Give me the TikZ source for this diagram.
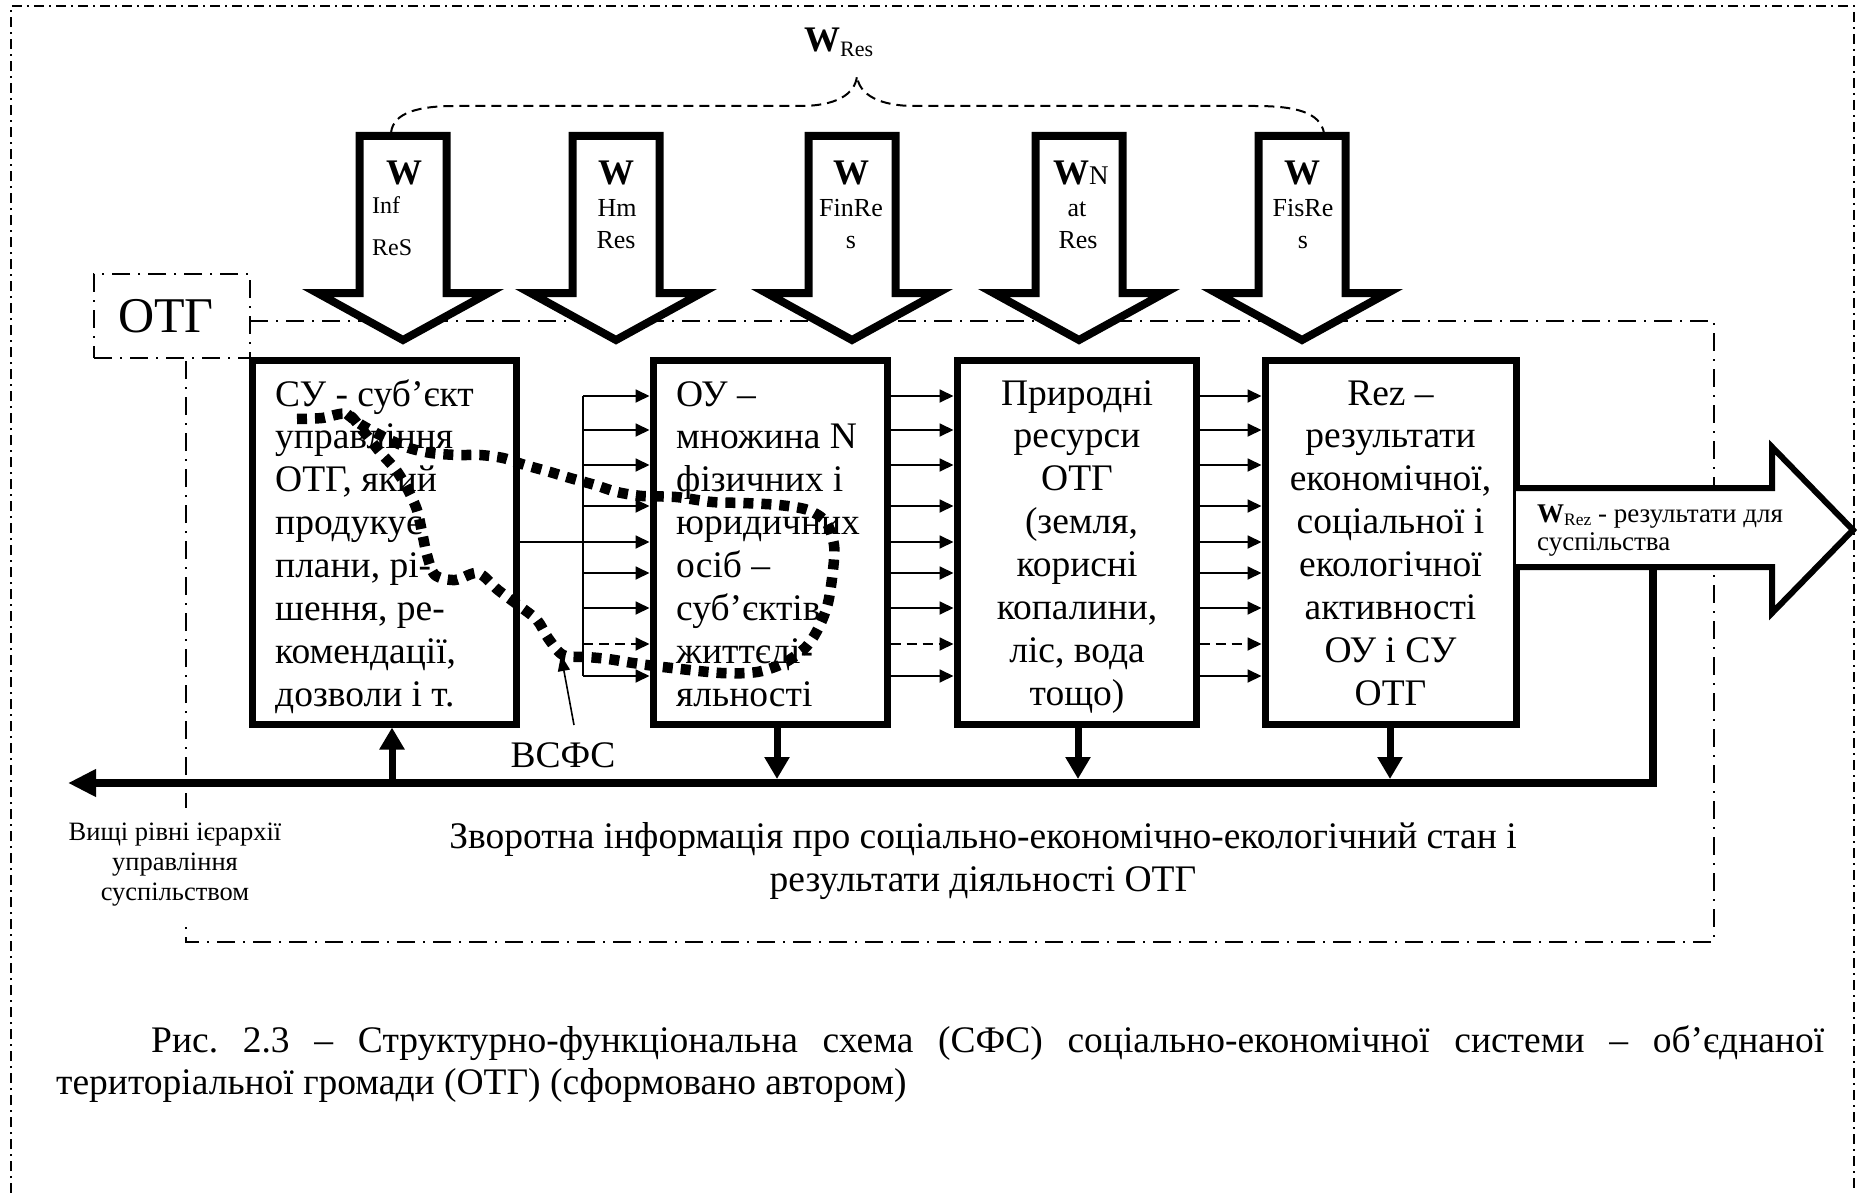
\documentclass[tikz,border=0pt]{standalone}
\usepackage{fontspec}
\setmainfont{Liberation Serif}
\usetikzlibrary{arrows.meta}
\newcommand\blkarrow[1]{%
  \draw[blockarrow] ({#1-43.5},136) -- ({#1+43.5},136) -- ({#1+43.5},293) -- ({#1+85.5},293) -- (#1,340) -- ({#1-85.5},293) -- ({#1-43.5},293) -- cycle;}
\begin{document}
\begin{tikzpicture}[x=1pt,y=-1pt,
  outerframe/.style={line width=1.5pt, dash pattern=on 10pt off 5pt on 2pt off 5pt},
  otgframe/.style={line width=1.8pt, dash pattern=on 18pt off 8pt on 2pt off 8pt},
  boxst/.style={draw, line width=7pt, fill=white, inner sep=0pt, outer sep=3.5pt},
  blockarrow/.style={draw, line width=8pt, fill=white, line join=miter},
  thinarr/.style={line width=1.8pt, -{Triangle[length=14pt,width=13pt]}},
  thickdown/.style={line width=7pt, -{Triangle[length=22pt,width=24pt]}},
  busline/.style={line width=8pt, line join=miter, -{Triangle[length=28pt,width=26pt]}},
  bracest/.style={line width=2pt, dash pattern=on 10pt off 6pt},
  dotloop/.style={line width=10.5pt, dash pattern=on 10pt off 8pt},
  sub24/.style={font=\fontsize{26}{26}\selectfont, inner sep=0pt, anchor=base},
  wlab/.style={font=\fontsize{36}{36}\selectfont\bfseries, inner sep=0pt, anchor=base},
]
\useasboundingbox (0,0) rectangle (1865,1193);
\fill[white] (0,0) rectangle (1865,1193);

% outer frame
\draw[outerframe] (11,1193) -- (11,6) -- (1854,6) -- (1854,1193);

% OTG region
\node[draw, otgframe, fill=white, minimum width=156pt, minimum height=84pt, inner sep=0pt,
      font=\fontsize{50}{50}\selectfont] (otg) at (172,316) {\hspace*{-12pt}ОТГ};
\coordinate (rTL) at (250,321);
\coordinate (rTR) at (1714,321);
\coordinate (rBR) at (1714,942);
\coordinate (rBL) at (186,942);
\coordinate (rLT) at (186,358);
\draw[otgframe] (rTL) -- (rTR) -- (rBR) -- (rBL) -- (rLT);

% brace
\draw[bracest] (391,133) .. controls (393,112) and (420,106) .. (455,106) -- (800,106)
  .. controls (835,106) and (855,95) .. (857,76)
  .. controls (859,95) and (880,106) .. (915,106) -- (1255,106)
  .. controls (1295,106) and (1320,112) .. (1324,133);
\node[inner sep=0pt, anchor=base west] (wres) at (804,52)
  {\fontsize{36}{36}\selectfont\bfseries W\raisebox{-5pt}{\fontsize{22}{22}\selectfont\mdseries Res}};

% block arrows
\blkarrow{403}
\blkarrow{616}
\blkarrow{852}
\blkarrow{1079}
\blkarrow{1302}

\node[wlab] (w1) at (404,185) {W};
\node[sub24, font=\fontsize{24}{24}\selectfont, anchor=base west] (w1a) at (372,214) {Inf};
\node[sub24, font=\fontsize{24}{24}\selectfont, anchor=base west] (w1b) at (372,255) {ReS};
\node[wlab] (w2) at (616,185) {W};
\node[sub24] (w2a) at (617,217) {Hm};
\node[sub24] (w2b) at (616,248) {Res};
\node[wlab] (w3) at (851,185) {W};
\node[sub24] (w3a) at (851,217) {FinRe};
\node[sub24] (w3b) at (851,248) {s};
\node[inner sep=0pt, anchor=base west] (w4) at (1053,185)
  {\fontsize{36}{36}\selectfont\bfseries W\fontsize{27}{27}\selectfont\mdseries N};
\node[sub24] (w4a) at (1077,217) {at};
\node[sub24] (w4b) at (1078,248) {Res};
\node[wlab] (w5) at (1302,185) {W};
\node[sub24] (w5a) at (1303,217) {FisRe};
\node[sub24] (w5b) at (1303,248) {s};

% main boxes
\node[boxst, minimum width=264pt, minimum height=364pt] (b1) at (384,542) {};
\node[boxst, minimum width=234pt, minimum height=364pt] (b2) at (770,542) {};
\node[boxst, minimum width=239pt, minimum height=364pt] (b3) at (1076.5,542) {};
\node[boxst, minimum width=251pt, minimum height=364pt] (b4) at (1390.5,542) {};

\node[inner sep=0pt, anchor=base west] (t1) at (275,406) {\parbox[t]{240pt}{\raggedright\fontsize{37.5}{42.9}\selectfont
  СУ - суб’єкт\\управління\\ОТГ, який\\продукує\\плани, рі-\\шення, ре-\\комендації,\\дозволи і т.}};
\node[inner sep=0pt, anchor=base west] (t2) at (676,406) {\parbox[t]{210pt}{\raggedright\fontsize{37.5}{42.9}\selectfont
  ОУ –\\множина N\\фізичних і\\юридичних\\осіб –\\суб’єктів\\життєді-\\яльності}};
\node[inner sep=0pt, anchor=base] (t3) at (1077,405) {\parbox[t]{230pt}{\centering\fontsize{37.5}{42.9}\selectfont
  Природні\\ресурси\\ОТГ\\\hspace*{9pt}(земля,\\корисні\\копалини,\\ліс, вода\\тощо)}};
\node[inner sep=0pt, anchor=base] (t4) at (1390.5,405) {\parbox[t]{240pt}{\centering\fontsize{37.5}{42.9}\selectfont
  Rez –\\результати\\економічної,\\соціальної і\\екологічної\\активності\\ОУ і СУ\\ОТГ}};

% small arrows
\coordinate (busT) at (583,396);
\coordinate (busB) at (583,676);
\draw[line width=1.8pt] (busT) -- (busB);
\foreach \yy [count=\i] in {396,430,465,506,573,608,676} {
  \coordinate (s\i) at (583,\yy);
  \draw[thinarr] (s\i) -- (s\i -| b2.west);
  \draw[thinarr] (b2.east |- s\i) -- (b3.west |- s\i);
  \draw[thinarr] (b3.east |- s\i) -- (b4.west |- s\i);
}
\coordinate (sm) at (583,542);
\draw[thinarr] (b1.east |- sm) -- (b2.west |- sm);
\draw[thinarr] (b2.east |- sm) -- (b3.west |- sm);
\draw[thinarr] (b3.east |- sm) -- (b4.west |- sm);
\coordinate (sd) at (583,644);
\draw[thinarr, dash pattern=on 10pt off 6pt] (sd) -- (sd -| b2.west);
\draw[thinarr, dash pattern=on 10pt off 6pt] (b2.east |- sd) -- (b3.west |- sd);
\draw[thinarr, dash pattern=on 10pt off 6pt] (b3.east |- sd) -- (b4.west |- sd);

% output arrow
\coordinate (oa) at (1653,567);
\draw[line width=6pt, fill=white, line join=miter] (1516,488) -- (1772,488) -- (1772,447) -- (1853,530)
  -- (1772,613) -- (1772,567) -- (1516,567);
\node[inner sep=0pt, anchor=base west] (wrez) at (1537,522) {\parbox[t]{310pt}{\raggedright\fontsize{27}{28}\selectfont
  {\bfseries W}\raisebox{-3pt}{\fontsize{17.5}{17.5}\selectfont Rez} - результати для\\суспільства}};

% feedback bus
\coordinate (fbR) at (1653,783);
\coordinate (fbL) at (68,783);
\draw[busline] (oa) -- (fbR) -- (fbL);
\coordinate (u1) at (392,783);
\draw[thickdown] (u1) -- (u1 |- b1.south);
\coordinate (x2) at (777,0);
\coordinate (x3) at (1078,0);
\coordinate (x4) at (1390,0);
\draw[thickdown, shorten >=4pt] (x2 |- b2.south) -- (x2 |- fbR);
\draw[thickdown, shorten >=4pt] (x3 |- b3.south) -- (x3 |- fbR);
\draw[thickdown, shorten >=4pt] (x4 |- b4.south) -- (x4 |- fbR);

% dotted loop (ВСФС)
\draw[dotloop] plot[smooth, tension=0.5] coordinates {
  (297,419) (322,418) (347,414) (364,432) (380,452) (396,470) (408,490) (417,510) (422,532)
  (427,555) (435,575) (455,580) (478,573) (498,590) (518,605) (537,620) (548,638) (563,655)
  (587,657) (608,659) (633,663) (663,667) (721,673) (757,672) (784,663) (806,647) (819,627)
  (828,603) (833,570) (834,545) (826,522) (808,510) (779,505) (743,503) (712,502) (676,497)
  (642,496) (617,492) (595,485) (570,478) (550,472) (525,465) (503,458) (480,455) (458,455)
  (431,453) (406,447) (380,435) (360,424) (347,414)};

\node[inner sep=0pt, anchor=base, font=\fontsize{37.5}{37.5}\selectfont] (vsfs) at (563,767) {ВСФС};
\coordinate (vsfsTail) at (574,725);
\coordinate (vsfsTip) at (561,655);
\draw[line width=1.6pt, -{Triangle[length=16pt,width=12pt]}] (vsfsTail) -- (vsfsTip);

% labels
\node[fill=white, inner xsep=0pt, inner ysep=14pt, anchor=base] (hier) at (175,840) {\parbox[t]{240pt}{\centering\fontsize{26.5}{30}\selectfont
  Вищі рівні ієрархії\\управління\\суспільством}};
\node[inner sep=0pt, anchor=base] (fb) at (983,848) {\parbox[t]{1300pt}{\centering\fontsize{37.5}{43}\selectfont
  Зворотна інформація про соціально-економічно-екологічний стан і\\результати діяльності ОТГ}};

% caption
\node[inner sep=0pt, anchor=base west] (cap) at (56,1052) {\parbox[t]{1768pt}{\fontsize{37.5}{42}\selectfont
  \frenchspacing\tolerance=10000 \hyphenpenalty=10000 \exhyphenpenalty=10000
  \hspace*{95pt}Рис. 2.3 – Структурно-функціональна схема (СФС) соціально-економічної системи – об’єднаної\linebreak
  територіальної громади (ОТГ) (сформовано автором)}};
\end{tikzpicture}
\end{document}
